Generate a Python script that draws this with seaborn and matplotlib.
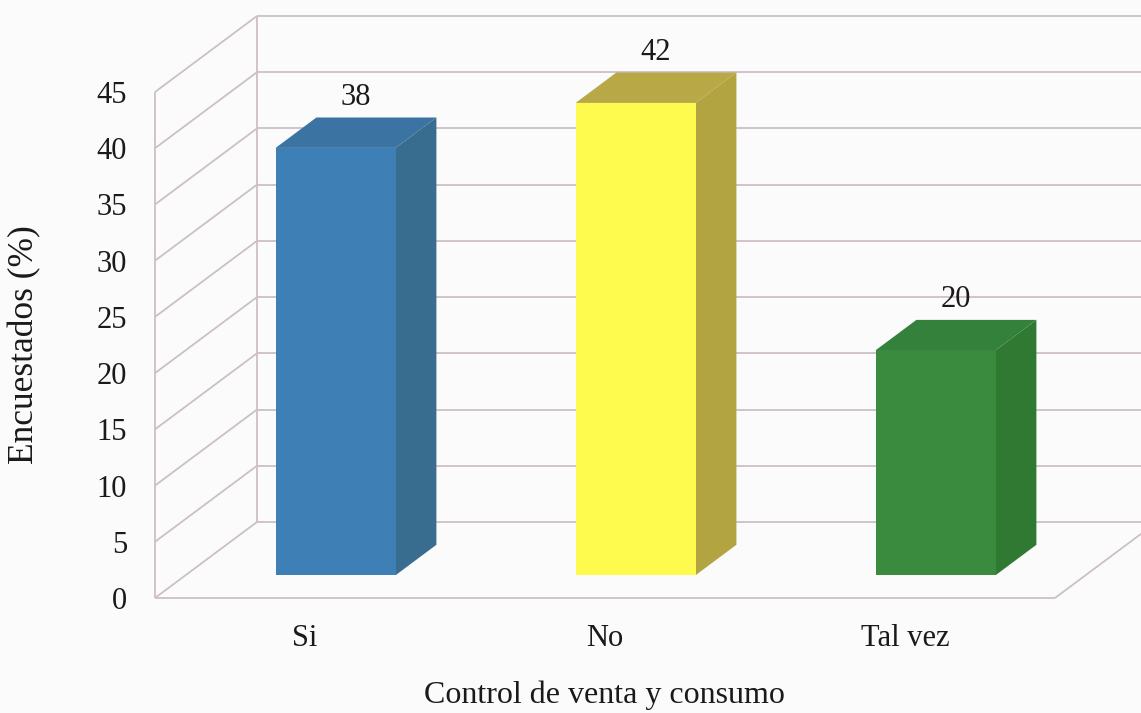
import matplotlib
matplotlib.use("Agg")
import matplotlib.pyplot as plt
import matplotlib.transforms as mtransforms
from matplotlib.patches import Polygon
import seaborn as sns

# Survey results
categories = ["Si", "No", "Tal vez"]
values = [38, 42, 20]
y_ticks = [0, 5, 10, 15, 20, 25, 30, 35, 40, 45]
x_title = "Control de venta y consumo"
y_title = "Encuestados (%)"

front_colors = ["#3E7FB6", "#FFFB4E", "#3A8B3D"]
side_colors = ["#386D90", "#B3A442", "#2F7933"]
top_colors = ["#3B74A2", "#B8A846", "#33813A"]

sns.set_style("white")
plt.rcParams["font.family"] = ["Liberation Serif", "DejaVu Serif"]

W, H, DPI = 1141, 713, 100
fig = plt.figure(figsize=(W / DPI, H / DPI), dpi=DPI, facecolor="#FBFBFB")
ax = fig.add_axes([155 / W, 115 / H, 900 / W, 506 / H])
ax.set_facecolor("none")

# depth of the 3-D box in data units (one category = 1, one value unit = 1)
OX, OY = 102 / 300, 76 / 11.24
BAR_FRONT, BAR_BACK = 0.30, 0.70
grid_color = "#CDBFC8"
grid_kw = dict(color=grid_color, lw=1.3, clip_on=False, zorder=1,
               solid_capstyle="butt")

ymax = y_ticks[-1]
x0, x1 = -0.5, len(categories) - 0.5

# back wall gridlines
for v in y_ticks:
    ax.plot([x0 + OX, x1 + OX], [v + OY, v + OY], **grid_kw)
# left wall
ax.plot([x0, x0], [0, ymax], **grid_kw)
ax.plot([x0 + OX, x0 + OX], [OY, ymax + OY], **grid_kw)
for v in y_ticks:
    ax.plot([x0, x0 + OX], [v, v + OY], **grid_kw)
# floor
ax.plot([x0, x1], [0, 0], **grid_kw)
ax.plot([x1, x1 + OX], [0, OY], **grid_kw)

# front faces of the bars
sns.barplot(x=categories, y=values, hue=categories, palette=front_colors,
            legend=False, saturation=1, width=0.4, linewidth=0, ax=ax,
            zorder=3)

shift = mtransforms.Affine2D().translate(BAR_FRONT * OX, BAR_FRONT * OY) + ax.transData
bars = [p for c in ax.containers for p in c]
for i, bar in enumerate(bars):
    bar.set_transform(shift)
    bx0 = bar.get_x()
    bx1 = bx0 + bar.get_width()
    h = bar.get_height()
    fx, fy = BAR_FRONT * OX, BAR_FRONT * OY
    bkx, bky = BAR_BACK * OX, BAR_BACK * OY
    side = Polygon([(bx1 + fx, fy), (bx1 + fx, h + fy),
                    (bx1 + bkx, h + bky), (bx1 + bkx, bky)],
                   closed=True, facecolor=side_colors[i], edgecolor="none",
                   zorder=2.9, clip_on=False)
    top = Polygon([(bx0 + fx, h + fy), (bx1 + fx, h + fy),
                   (bx1 + bkx, h + bky), (bx0 + bkx, h + bky)],
                  closed=True, facecolor=top_colors[i], edgecolor="none",
                  zorder=2.9, clip_on=False)
    ax.add_patch(side)
    ax.add_patch(top)
    ax.annotate(f"{values[i]:g}", xy=(bx0 + bar.get_width() / 2 + 0.5 * (fx + bkx),
                                       h + bky),
                xytext=(0, 14.5), textcoords="offset points", ha="center",
                va="center", fontsize=22, color="#1A1A1A", annotation_clip=False)

ax.set_xlim(x0, x1)
ax.set_ylim(0, ymax)
ax.set_yticks(y_ticks)
ax.set_yticklabels([str(t) for t in y_ticks])
for s in ax.spines.values():
    s.set_visible(False)
ax.tick_params(axis="y", length=0, pad=20, labelsize=22, labelcolor="#1A1A1A")
ax.tick_params(axis="x", length=0, pad=19, labelsize=22, labelcolor="#1A1A1A")

ax.set_xlabel(x_title, fontsize=23, color="#1A1A1A")
ax.xaxis.label.set_va("center")
ax.xaxis.set_label_coords((604 - 155) / 900, (598 - 695) / 506)
ax.set_ylabel(y_title, fontsize=25.5, color="#1A1A1A")
ax.yaxis.label.set_va("center")
ax.yaxis.set_label_coords((25 - 155) / 900, (598 - 345) / 506)

fig.savefig("out.png", dpi=DPI, facecolor=fig.get_facecolor())
